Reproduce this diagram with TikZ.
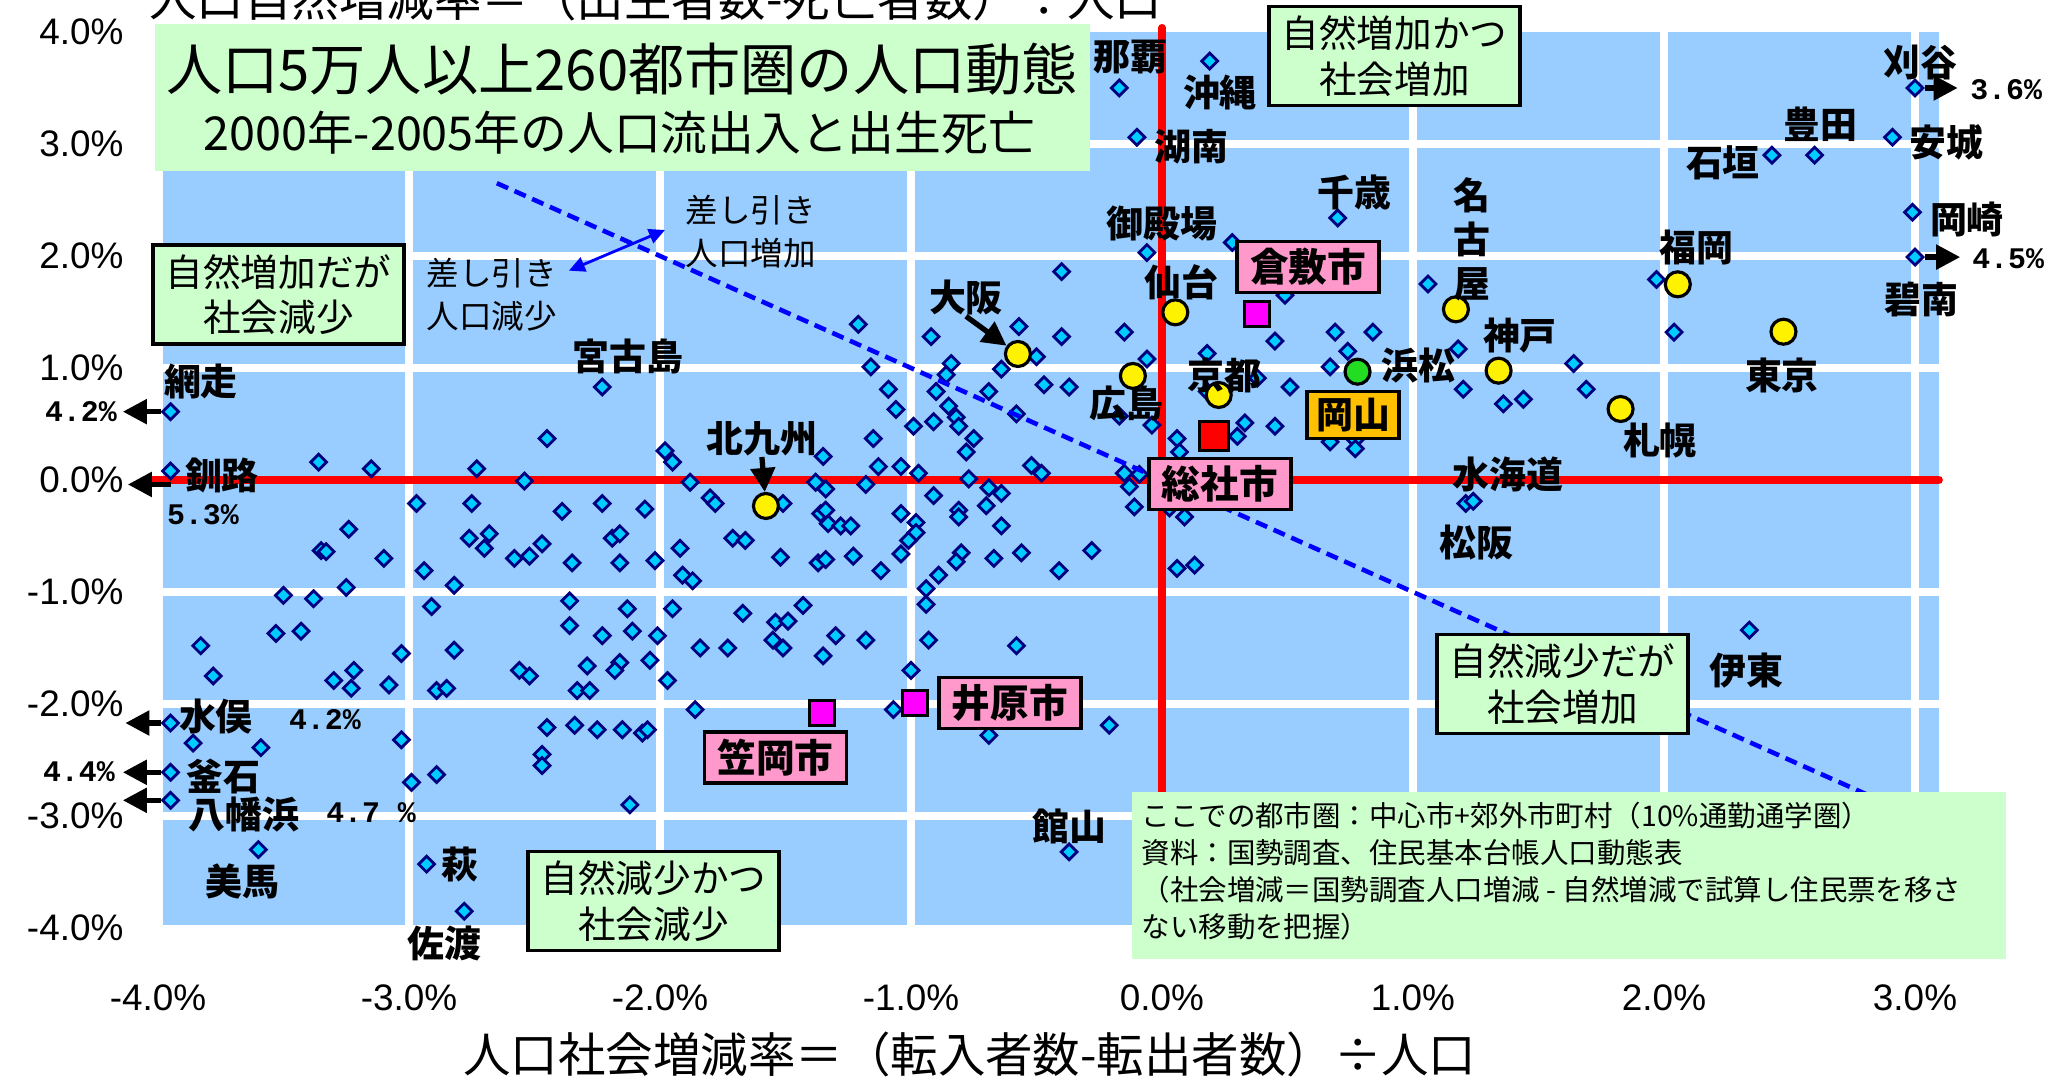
\documentclass[tikz,border=0pt]{standalone}
\usepackage{fontspec}
\setmainfont{Noto Sans CJK JP}
\newfontfamily\numfont{Liberation Sans}
\newfontfamily\pctfont{Liberation Mono}
\usetikzlibrary{shapes.geometric,arrows.meta}

\definecolor{plotblue}{HTML}{99CCFF}
\definecolor{boxgreen}{HTML}{CCFFCC}
\definecolor{ptfill}{HTML}{00CCFF}
\definecolor{ptline}{HTML}{000080}
\definecolor{boxpink}{HTML}{FF99CC}
\definecolor{sqmag}{HTML}{FF00FF}
\definecolor{boxgold}{HTML}{FFC000}
\definecolor{hamagreen}{HTML}{22DD22}

\begin{document}
\begin{tikzpicture}[x=2.51cm,y=1.12cm]
      \tikzstyle{STYPT} = [diamond, draw=ptline, fill=ptfill, line width=0.8pt, inner sep=0pt, minimum width=0.17cm, minimum height=0.17cm]
      \tikzstyle{STYCIR} = [circle, draw=black, fill=yellow, line width=0.9pt, inner sep=0pt, minimum size=0.25cm]
      \tikzstyle{STYSQ} = [rectangle, draw=black, fill=sqmag, line width=0.9pt, inner sep=0pt, minimum size=0.25cm]
      \tikzstyle{STYLAB} = [inner sep=0pt, font=\fontsize{10.5}{12}\selectfont\bfseries]
      \tikzstyle{STYCITY} = [draw, line width=1.1pt, fill=boxpink, minimum width=1.42cm, minimum height=0.51cm, inner sep=0pt, font=\fontsize{11}{13}\selectfont\bfseries]
      \tikzstyle{STYQ} = [draw, line width=1pt, fill=boxgreen, minimum width=2.51cm, minimum height=0.99cm, inner sep=0pt, align=center, font=\fontsize{10.7}{13}\selectfont]
      \tikzstyle{STYARR} = [-{Triangle[length=0.24cm,width=0.24cm]}, line width=1.5pt]
      \tikzstyle{STYPCT} = [inner sep=0pt, font=\pctfont\fontsize{8.5}{9}\selectfont\bfseries]
      \tikzstyle{STYTICK} = [inner sep=0pt, font=\numfont\fontsize{10.5}{12}\selectfont]

      \useasboundingbox (-4.6295,-5.3393) rectangle (3.5378,4.2857);

      %%%%% PLOT AREA
      \fill[plotblue] (-3.98,-3.97) rectangle (3.096,4.0);
      \foreach \g in {-3,...,3} \draw[white, line width=2.2pt] (\g,-3.97) -- (\g,4.0);
      \foreach \g in {-3,...,3} \draw[white, line width=2.2pt] (-3.98,\g) -- (3.096,\g);
      \draw[red, line width=2.3pt, line cap=round] (-4.02,0) -- (3.095,0);
      \draw[red, line width=2pt, line cap=round] (0,4.04) -- (0,-3.97);

      %%%%% AXES
      \foreach \v in {4,3,...,-4} \node[STYTICK, anchor=east] (ty\v) at (-4.135,\v) {\v.0\%};
      \foreach \v in {-4,...,3} \node[STYTICK] (tx\v) at (\v,-4.625) {\v.0\%};
      \node[inner sep=0pt, font=\fontsize{13.5}{15}\selectfont] (xtitle) at (-0.765,-5.125) {人口社会増減率＝（転入者数-転出者数）÷人口};
      \node[inner sep=0pt, font=\fontsize{13.5}{15}\selectfont] (ytitle) at (-2.016,4.295) {人口自然増減率＝（出生者数-死亡者数）÷人口};

      %%%%% POINTS
      \foreach \px/\py [count=\i] in {-2.23/0.83, -2.45/0.37, -1.98/0.26, -1.95/0.16, -3.36/0.16, -3.15/0.10, -2.73/0.10, -2.54/-0.01, -2.97/-0.21, -2.75/-0.21, -2.39/-0.28, -2.23/-0.21, -2.06/-0.26, -3.24/-0.44, -2.76/-0.52, -2.68/-0.48, -2.70/-0.61, -2.47/-0.57, -2.19/-0.52, -2.16/-0.48, -3.35/-0.63, -3.33/-0.64, -3.10/-0.70, -2.58/-0.70, -2.52/-0.68, -2.35/-0.74, -2.16/-0.74, -2.02/-0.72, -2.94/-0.81, -2.82/-0.94, -1.92/-0.61, -1.91/-0.85, -3.50/-1.03, -3.38/-1.06, -3.25/-0.96, -2.91/-1.13, -2.36/-1.08, -2.13/-1.15, -1.95/-1.15,
        -3.53/-1.37, -3.43/-1.35, -3.83/-1.48, -3.78/-1.75, -3.03/-1.55, -2.82/-1.52, -2.36/-1.30, -2.23/-1.39, -2.11/-1.35, -2.01/-1.39, -2.04/-1.61, -2.29/-1.66, -2.16/-1.63, -2.18/-1.70, -3.30/-1.79, -3.22/-1.70, -3.23/-1.86, -3.08/-1.83, -2.89/-1.88, -2.85/-1.86, -2.56/-1.70, -2.52/-1.75, -2.33/-1.88, -2.28/-1.88, -1.97/-1.79, -3.86/-2.35, -3.59/-2.39, -3.03/-2.32, -2.45/-2.21, -2.34/-2.19, -2.25/-2.23, -2.15/-2.23, -2.07/-2.26, -2.05/-2.23, -2.47/-2.45, -2.47/-2.55, -2.99/-2.70, -2.89/-2.63, -2.12/-2.90, -3.60/-3.30, -2.93/-3.43, -2.78/-3.85,
        -1.21/1.39, -0.92/1.28, -0.57/1.37, -0.40/1.28, -0.15/1.32, -0.50/1.10, -0.06/1.08, -1.16/1.01, -0.84/1.04, -0.86/0.94, -0.64/0.99, -1.09/0.81, -0.90/0.79, -0.69/0.79, -0.47/0.85, -0.37/0.83, -1.06/0.63, -0.85/0.66, -0.58/0.59, -0.17/0.57, -0.04/0.49, -0.99/0.48, -0.91/0.52, -0.82/0.56, -0.81/0.48, -0.75/0.37, -0.78/0.25, -1.15/0.37, -1.35/0.21, -1.13/0.12, -1.04/0.12, -0.97/0.06, -0.77/0.01, -0.52/0.13, -0.48/0.06, -0.15/0.06, -0.09/0.05, -0.13/-0.06, -0.11/-0.24, 0.06/0.37, 0.07/0.25,
        -1.88/-0.02, -1.80/-0.16, -1.78/-0.21, -1.51/-0.21, -1.38/-0.02, -1.34/-0.08, -1.18/-0.04, -0.91/-0.14, -0.69/-0.07, -0.64/-0.12, -0.70/-0.23, -0.81/-0.27, -0.81/-0.33, -0.64/-0.41, -1.04/-0.30, -0.98/-0.38, -0.98/-0.47, -1.01/-0.54, -1.04/-0.66, -1.36/-0.30, -1.34/-0.27, -1.33/-0.39, -1.28/-0.41, -1.24/-0.41, -1.71/-0.52, -1.66/-0.54, -1.52/-0.69, -1.37/-0.74, -1.34/-0.71, -1.23/-0.68, -1.12/-0.81, -1.87/-0.90, -0.89/-0.85, -0.94/-0.97, -0.94/-1.11, -0.80/-0.65, -0.82/-0.73, -0.67/-0.70, -0.56/-0.65, -0.41/-0.81, -0.28/-0.63, 0.06/-0.79, 0.13/-0.76, -1.43/-1.12, -1.67/-1.19, 0.03/-0.25, 0.09/-0.33,
        -1.54/-1.27, -1.49/-1.26, -1.84/-1.50, -1.73/-1.50, -1.55/-1.43, -1.51/-1.50, -1.35/-1.57, -1.30/-1.39, -1.18/-1.43, -0.93/-1.43, -0.58/-1.48, -1.00/-1.70, -1.86/-2.05, -1.07/-2.05, -0.69/-2.28, -0.21/-2.19, -0.37/-3.32,
        0.19/3.74, -0.17/3.50, -0.10/3.06, 0.70/2.34, 0.28/2.12, -0.06/2.03, -0.40/1.86, 0.49/1.65, 0.45/1.24, 0.69/1.32, 0.84/1.32, 0.74/1.15, 0.67/1.01, 0.18/1.13, 0.38/0.91, 0.51/0.83, 0.18/0.79, 0.30/0.39, 0.33/0.51, 0.45/0.48, 0.67/0.34, 0.77/0.36, 0.77/0.28,
        2.91/3.06, 2.43/2.90, 2.60/2.90, 2.99/2.39, 1.06/1.75, 1.97/1.79, 2.04/1.32, 1.18/1.17, 1.64/1.04, 1.20/0.81, 1.36/0.68, 1.44/0.72, 1.69/0.81, 1.21/-0.21, 1.24/-0.19, 2.34/-1.34}
        \node[STYPT] (d\i) at (\px,\py) {};

      \node[STYPT] (dAbs) at (-3.95,0.61) {};
      \node[STYPT] (dKus) at (-3.95,0.08) {};
      \node[STYPT] (dMin) at (-3.95,-2.17) {};
      \node[STYPT] (dKam) at (-3.95,-2.61) {};
      \node[STYPT] (dYaw) at (-3.95,-2.86) {};
      \node[STYPT] (dKar) at (3.00,3.50) {};
      \node[STYPT] (dHek) at (3.00,1.99) {};

      %%%%% ZERO LINE
      \coordinate (z0) at (-2.65,2.65);
      \coordinate (z1) at (2.95,-2.95);
      \draw[blue, line width=1.3pt, dash pattern=on 3.5pt off 2pt] (z0) -- (z1);

      %%%%% CITIES
      \node[STYCIR] (cOsaka) at (-0.574,1.125) {};
      \node[STYCIR] (cSendai) at (0.053,1.497) {};
      \node[STYCIR] (cHiro) at (-0.116,0.929) {};
      \node[STYCIR] (cKyoto) at (0.226,0.759) {};
      \node[STYCIR] (cNagoya) at (1.171,1.524) {};
      \node[STYCIR] (cFuku) at (2.055,1.747) {};
      \node[STYCIR] (cTokyo) at (2.476,1.324) {};
      \node[STYCIR] (cKobe) at (1.341,0.976) {};
      \node[STYCIR] (cSapp) at (1.827,0.634) {};
      \node[STYCIR] (cKita) at (-1.578,-0.232) {};
      \node[STYCIR, fill=hamagreen] (cHama) at (0.779,0.967) {};

      \node[STYSQ] (sKura) at (0.379,1.479) {};
      \node[STYSQ] (sKasa) at (-1.353,-2.077) {};
      \node[STYSQ] (sIba) at (-0.983,-1.988) {};
      \node[STYSQ, fill=red, minimum size=0.29cm] (sSoja) at (0.208,0.393) {};

      %%%%% LABELS
      \node[STYLAB] (lNaha) at (-0.124,3.777) {那覇};
      \node[STYLAB] (lOki) at (0.231,3.464) {沖縄};
      \node[STYLAB] (lKonan) at (0.116,2.973) {湖南};
      \node[STYLAB] (lChit) at (0.765,2.563) {千歳};
      \node[STYLAB] (lGot) at (0.000,2.286) {御殿場};
      \node[STYLAB] (lSendai) at (0.076,1.768) {仙台};
      \node[STYLAB] (lOsaka) at (-0.781,1.625) {大阪};
      \node[STYLAB] (lHiro) at (-0.143,0.679) {広島};
      \node[STYLAB] (lKyoto) at (0.247,0.929) {京都};
      \node[STYLAB] (lHama) at (1.020,1.018) {浜松};
      \node[STYLAB, align=center, font=\fontsize{10.5}{12.5}\selectfont\bfseries] (lNagoya) at (1.235,2.152) {名\\古\\屋};
      \node[STYLAB] (lKobe) at (1.426,1.286) {神戸};
      \node[STYLAB] (lFuku) at (2.131,2.080) {福岡};
      \node[STYLAB] (lTokyo) at (2.470,0.929) {東京};
      \node[STYLAB] (lSapp) at (1.984,0.357) {札幌};
      \node[STYLAB] (lMitsu) at (1.378,0.045) {水海道};
      \node[STYLAB] (lMatsu) at (1.251,-0.554) {松阪};
      \node[STYLAB] (lIto) at (2.327,-1.705) {伊東};
      \node[STYLAB] (lKar) at (3.020,3.732) {刈谷};
      \node[STYLAB] (lToyo) at (2.622,3.179) {豊田};
      \node[STYLAB] (lIshi) at (2.235,2.830) {石垣};
      \node[STYLAB] (lAnjo) at (3.127,3.018) {安城};
      \node[STYLAB] (lOkaz) at (3.207,2.330) {岡崎};
      \node[STYLAB] (lHek) at (3.024,1.616) {碧南};
      \node[STYLAB] (lMiya) at (-2.127,1.107) {宮古島};
      \node[STYLAB] (lAbs) at (-3.829,0.875) {網走};
      \node[STYLAB] (lKus) at (-3.745,0.036) {釧路};
      \node[STYLAB] (lKita) at (-1.594,0.366) {北九州};
      \node[STYLAB] (lMin) at (-3.769,-2.116) {水俣};
      \node[STYLAB] (lKam) at (-3.741,-2.643) {釜石};
      \node[STYLAB] (lYaw) at (-3.657,-2.991) {八幡浜};
      \node[STYLAB] (lBima) at (-3.665,-3.580) {美馬};
      \node[STYLAB] (lHagi) at (-2.797,-3.429) {萩};
      \node[STYLAB] (lSado) at (-2.857,-4.134) {佐渡};
      \node[STYLAB] (lTate) at (-0.367,-3.089) {館山};

      \node[STYCITY] (bKura) at (0.582,1.902) {倉敷市};
      \node[STYCITY] (bSoja) at (0.231,-0.036) {総社市};
      \node[STYCITY] (bIba) at (-0.606,-1.991) {井原市};
      \node[STYCITY] (bKasa) at (-1.540,-2.478) {笠岡市};
      \node[STYCITY, fill=boxgold, minimum width=0.92cm, minimum height=0.47cm, font=\fontsize{10.5}{12}\selectfont\bfseries] (bOka) at (0.761,0.580) {岡山};

      %%%%% ARROWS
      \draw[STYARR] (lOsaka.south) -- (cOsaka);
      \draw[STYARR] (lKita.south) -- (cKita);

      \coordinate (e1) at (-4.14,0.61);
      \coordinate (e2) at (-4.12,-0.04);
      \coordinate (e3) at (-4.13,-2.17);
      \coordinate (e4) at (-4.14,-2.61);
      \coordinate (e5) at (-4.14,-2.86);
      \coordinate (e6) at (3.17,3.50);
      \coordinate (e7) at (3.18,1.99);
      \draw[STYARR] (dAbs.west) -- (e1);
      \draw[STYARR] (dKus.south |- e2) -- (e2);
      \draw[STYARR] (dMin.west) -- (e3);
      \draw[STYARR] (dKam.west) -- (e4);
      \draw[STYARR] (dYaw.west) -- (e5);
      \draw[STYARR] (dKar.east) -- (e6);
      \draw[STYARR] (dHek.east) -- (e7);

      \node[STYPCT] (pAbs) at (-4.307,0.607) {4.2\%};
      \node[STYPCT] (pKus) at (-3.821,-0.313) {5.3\%};
      \node[STYPCT] (pMin) at (-3.335,-2.143) {4.2\%};
      \node[STYPCT] (pKam) at (-4.315,-2.607) {4.4\%};
      \node[STYPCT] (pYaw) at (-3.151,-2.973) {4.7 \%};
      \node[STYPCT] (pKar) at (3.363,3.482) {3.6\%};
      \node[STYPCT] (pHek) at (3.371,1.973) {4.5\%};

      %%%%% NET CHANGE
      \node[inner sep=0pt, anchor=west, align=left, font=\fontsize{9.25}{12.2}\selectfont] (lMinus) at (-2.932,1.656) {差し引き\\人口減少};
      \node[inner sep=0pt, anchor=west, align=left, font=\fontsize{9.25}{12.2}\selectfont] (lPlus) at (-1.900,2.214) {差し引き\\人口増加};
      \coordinate (b0) at (-2.363,1.869);
      \coordinate (b1) at (-1.980,2.232);
      \draw[blue, line width=0.8pt, {Triangle[length=0.16cm,width=0.15cm]}-{Triangle[length=0.16cm,width=0.15cm]}] (b0) -- (b1);

      %%%%% QUADRANTS
      \node[STYQ] (q1) at (-3.520,1.656) {自然増加だが\\社会減少};
      \node[STYQ] (q2) at (0.926,3.786) {自然増加かつ\\社会増加};
      \node[STYQ] (q3) at (1.596,-1.821) {自然減少だが\\社会増加};
      \node[STYQ] (q4) at (-2.026,-3.759) {自然減少かつ\\社会減少};

      %%%%% TITLE
      \node[fill=boxgreen, minimum width=9.35cm, minimum height=1.47cm, inner sep=0pt] (tbox) at (-2.149,3.415) {};
      \node[inner sep=0pt, font=\fontsize{16}{19}\selectfont] (t1) at (-2.151,3.670) {人口5万人以上260都市圏の人口動態};
      \node[inner sep=0pt, font=\fontsize{13.3}{15}\selectfont] (t2) at (-2.163,3.098) {2000年-2005年の人口流出入と出生死亡};

      %%%%% NOTE
      \node[fill=boxgreen, minimum width=8.74cm, minimum height=1.67cm, inner sep=0pt] (nbox) at (1.622,-3.531) {};
      \node[inner sep=0pt, anchor=west, align=left, font=\fontsize{8.1}{10.5}\selectfont] (ntext) at (-0.084,-3.491) {ここでの都市圏：中心市+郊外市町村（10\%通勤通学圏）\\資料：国勢調査、住民基本台帳人口動態表\\（社会増減＝国勢調査人口増減 - 自然増減で試算し住民票を移さ\\ない移動を把握）};
\end{tikzpicture}
\end{document}
